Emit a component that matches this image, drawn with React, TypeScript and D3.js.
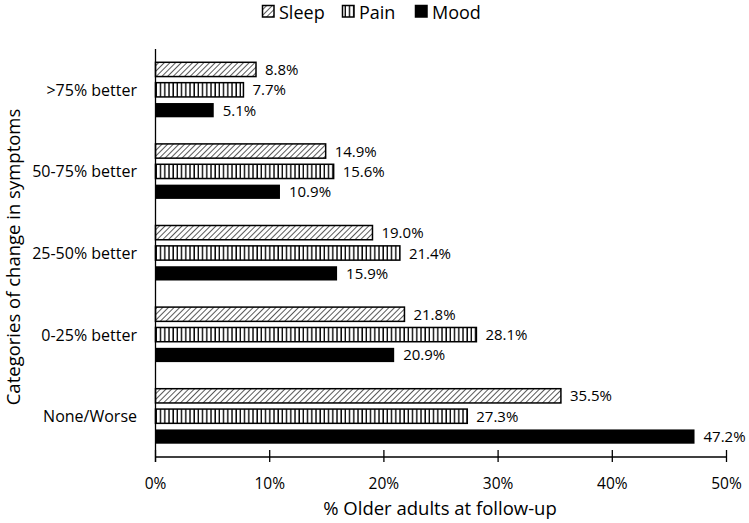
import React from "react";
import * as d3 from "d3";

const categories = [">75% better", "50-75% better", "25-50% better", "0-25% better", "None/Worse"];
const seriesNames = ["Sleep", "Pain", "Mood"];
const sleepValues = [8.8, 14.9, 19.0, 21.8, 35.5];
const painValues = [7.7, 15.6, 21.4, 28.1, 27.3];
const moodValues = [5.1, 10.9, 15.9, 20.9, 47.2];
const xTicks = [0, 10, 20, 30, 40, 50];

const W = 749;
const H = 523;
const FONT = "'Open Sans', 'Noto Sans', sans-serif";

export default function App() {
  const margin = { left: 155.5, right: 22.5, top: 49, bottom: 66 };
  const x = d3.scaleLinear().domain([0, 50]).range([margin.left, W - margin.right]);
  const y = d3.scaleBand().domain(categories).range([margin.top, H - margin.bottom]).paddingInner(0).paddingOuter(0);
  const inner = d3.scaleBand().domain(seriesNames).range([-27.5, 27.5]).paddingInner(0.3).paddingOuter(0);
  const series = [sleepValues, painValues, moodValues];
  const fills = ["url(#hatch)", "url(#vlines)", "#000"];
  const axisY = H - margin.bottom;

  const legendItems = [
    { name: "Sleep", x: 262, fill: fills[0] },
    { name: "Pain", x: 342, fill: fills[1] },
    { name: "Mood", x: 415, fill: fills[2] },
  ];

  return (
    <svg width={W} height={H} style={{ position: "absolute", left: 0, top: 0, background: "#fff" }} fontFamily={FONT}>
      <defs>
        <pattern id="hatch" patternUnits="userSpaceOnUse" width="4" height="4" patternTransform="rotate(45)">
          <rect width="4" height="4" fill="#fff" />
          <line x1="0" y1="0" x2="0" y2="4" stroke="#000" strokeWidth="1.3" />
        </pattern>
        <pattern id="vlines" patternUnits="userSpaceOnUse" width="4.2" height="4">
          <rect width="4.2" height="4" fill="#fff" />
          <line x1="1" y1="0" x2="1" y2="4" stroke="#000" strokeWidth="1.4" />
        </pattern>
      </defs>
      <rect width={W} height={H} fill="#fff" />

      {/* Legend */}
      {legendItems.map((l) => (
        <g key={l.name}>
          <rect x={l.x + 0.5} y={5.5} width={11.5} height={11.5} fill={l.fill} stroke="#000" strokeWidth={1.5} />
          <text x={l.x + 17} y={18.5} fontSize={18} fill="#000">{l.name}</text>
        </g>
      ))}

      {/* Bars */}
      {categories.map((c, i) => (
        <g key={c}>
          {series.map((vals, s) => {
            const by = (y(c) as number) + y.bandwidth() / 2 + (inner(seriesNames[s]) as number);
            const bh = inner.bandwidth();
            const w = x(vals[i]) - x(0);
            return (
              <g key={s}>
                <rect x={x(0)} y={by} width={w} height={bh} fill={fills[s]} stroke="#000" strokeWidth={s === 2 ? 0 : 1.5} />
                <text x={x(vals[i]) + 9} y={by + bh / 2 + 5.5} fontSize={15} fill="#000">{vals[i].toFixed(1)}%</text>
              </g>
            );
          })}
          <text x={137} y={(y(c) as number) + y.bandwidth() / 2 + 6} fontSize={16} textAnchor="end" fill="#000">{c}</text>
        </g>
      ))}

      {/* Axes */}
      <line x1={x(0)} x2={x(0)} y1={margin.top} y2={axisY + 5} stroke="#000" strokeWidth={1.3} />
      <line x1={x(0)} x2={x(50)} y1={axisY} y2={axisY} stroke="#000" strokeWidth={1.3} />
      {xTicks.map((t) => (
        <g key={t}>
          <line x1={x(t)} x2={x(t)} y1={axisY - 7} y2={axisY + 5} stroke="#000" strokeWidth={1.3} />
          <text x={x(t)} y={489} fontSize={15.5} textAnchor="middle" fill="#000">{t}%</text>
        </g>
      ))}
      <text x={440} y={515} fontSize={18.5} textAnchor="middle" fill="#000">% Older adults at follow-up</text>
      <text transform={`translate(20, 257) rotate(-90)`} fontSize={18.5} textAnchor="middle" fill="#000">Categories of change in symptoms</text>
    </svg>
  );
}
